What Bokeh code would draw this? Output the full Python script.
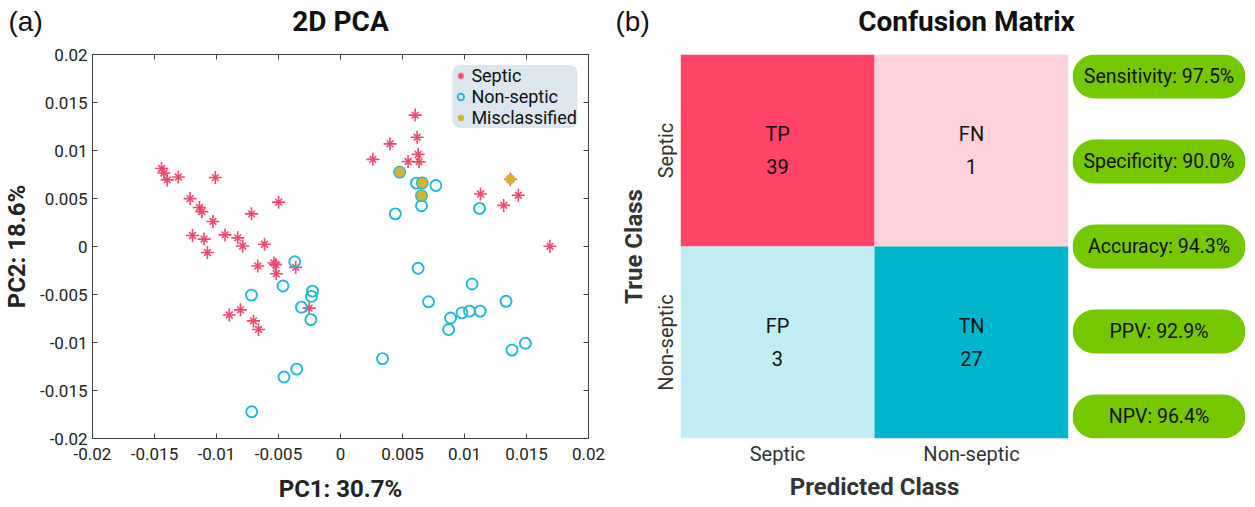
from bokeh.plotting import figure
from bokeh.layouts import row, column
from bokeh.models import (Range1d, FixedTicker, CustomJSTickFormatter, LinearAxis, Legend,
                          LegendItem, ColumnDataSource, FactorRange)
from bokeh.core.properties import value
from bokeh.embed import file_html
from bokeh.resources import INLINE

# ---------------- data: 2D PCA ----------------
septic_x = [-0.01443, -0.01424, -0.01397, -0.01308, -0.0101, -0.01213, -0.01138, -0.01118,
            -0.01029, -0.00718, -0.00499, -0.01194, -0.0110, -0.00931, -0.00829, -0.00789,
            -0.00613, -0.01073, -0.00667, -0.00537, -0.00523, -0.00518, -0.00361, -0.00253,
            -0.00897, -0.00807, -0.00702, -0.00661,
            0.00602, 0.00618, 0.00399, 0.00261, 0.00626, 0.00545, 0.00634, 0.01129, 0.01434,
            0.01316, 0.01689, 0.0137]
septic_y = [0.00813, 0.00765, 0.00694, 0.00724, 0.00718, 0.00499, 0.00407, 0.00363,
            0.00261, 0.0034, 0.00462, 0.00115, 0.00077, 0.00121, 0.0009, 0.00005,
            0.00023, -0.00063, -0.00203, -0.00172, -0.00189, -0.00284, -0.00217, -0.00642,
            -0.00714, -0.0066, -0.00775, -0.00864,
            0.01369, 0.01138, 0.01069, 0.00908, 0.0096, 0.00885, 0.00882, 0.00547, 0.00534,
            0.00428, 0.00002, 0.0070]
nonseptic_x = [-0.00369, -0.00464, -0.00718, -0.00226, -0.00234, -0.00315, -0.00239, -0.00353,
               -0.00456, -0.00716,
               0.00613, 0.00769, 0.00653, 0.00442, 0.01121, 0.00626, 0.01061, 0.0071, 0.01335,
               0.0098, 0.0104, 0.01126, 0.00888, 0.00872, 0.00339, 0.01383, 0.01491,
               0.00477, 0.00659, 0.00653]
nonseptic_y = [-0.00159, -0.00411, -0.00506, -0.00465, -0.0052, -0.00632, -0.00762, -0.01277,
               -0.01359, -0.01721,
               0.0066, 0.00636, 0.00425, 0.0034, 0.00397, -0.00227, -0.00391, -0.00575, -0.00571,
               -0.00691, -0.00673, -0.00673, -0.00745, -0.00864, -0.01168, -0.01079, -0.01008,
               0.00775, 0.00663, 0.0053]
misclassified_x = [0.00477, 0.00659, 0.00653, 0.0137]
misclassified_y = [0.00775, 0.00663, 0.0053, 0.0070]
axis_ticks = [-0.02, -0.015, -0.01, -0.005, 0, 0.005, 0.01, 0.015, 0.02]

# ---------------- data: confusion matrix ----------------
pred_classes = ["Septic", "Non-septic"]          # left to right
true_classes = ["Non-septic", "Septic"]          # bottom to top
cell_pred = ["Septic", "Non-septic", "Septic", "Non-septic"]
cell_true = ["Septic", "Septic", "Non-septic", "Non-septic"]
cell_names = ["TP", "FN", "FP", "TN"]
cell_counts = [39, 1, 3, 27]
cell_colors = ["#FF4468", "#FFD1DB", "#C1ECF1", "#00B5CC"]

metric_names = ["Sensitivity", "Specificity", "Accuracy", "PPV", "NPV"]
metric_values = [97.5, 90.0, 94.3, 92.9, 96.4]

# ---------------- header texts ----------------
panel_letters = ["(a)", "(b)"]
panel_titles = ["2D PCA", "Confusion Matrix"]

RED = "#F0476C"
CYAN = "#1DB9D5"
GOLD = "#D8B330"
GREEN = "#75C800"
FONT = "Roboto"
W = 1255
HEAD = 40
H = 465
TOP, BOTTOM = 14, 66

# ================= header strip (panel letters and titles) =================
p0 = figure(width=W, height=HEAD, x_range=Range1d(0, W), y_range=Range1d(HEAD, 0),
            output_backend="svg", toolbar_location=None,
            min_border_left=0, min_border_right=0, min_border_top=0, min_border_bottom=0)
p0.axis.visible = False
p0.grid.visible = False
p0.outline_line_color = None
p0.text(x=[8, 615], y=[21, 21], text=panel_letters, text_font=value("Liberation Sans"),
        text_font_size="28px", text_baseline="middle", text_align="left", text_color="#111111")
p0.text(x=[340, 966], y=[21, 21], text=panel_titles, text_font=value(FONT),
        text_font_style="bold", text_font_size="28px", text_baseline="middle",
        text_align="center", text_color="#111111")

# ================= Figure 1: PCA =================
p1 = figure(width=616, height=H, x_range=Range1d(-0.02, 0.02), y_range=Range1d(-0.02, 0.02),
            output_backend="svg", toolbar_location=None,
            min_border_left=92, min_border_right=28, min_border_top=TOP, min_border_bottom=BOTTOM)
p1.grid.visible = False
p1.outline_line_color = "#444444"

fmt = CustomJSTickFormatter(code="return tick == 0 ? '0' : String(Math.round(tick*1000)/1000);")
for ax in [p1.xaxis[0], p1.yaxis[0]]:
    ax.ticker = FixedTicker(ticks=axis_ticks)
    ax.formatter = fmt
    ax.axis_line_color = "#444444"
    ax.major_tick_in = 5
    ax.major_tick_out = 0
    ax.major_tick_line_color = "#444444"
    ax.minor_tick_line_color = None
    ax.major_label_text_font = FONT
    ax.major_label_text_font_size = "17px"
    ax.major_label_text_color = "#222222"
    ax.major_label_standoff = 5
    ax.axis_label_text_font = FONT
    ax.axis_label_text_font_style = "bold"
    ax.axis_label_text_font_size = "24px"
    ax.axis_label_text_color = "#222222"
p1.xaxis[0].axis_label = "PC1: 30.7%"
p1.yaxis[0].axis_label = "PC2: 18.6%"
p1.xaxis[0].major_label_standoff = 9
p1.xaxis[0].axis_label_standoff = 12
p1.yaxis[0].axis_label_standoff = 6

blank = CustomJSTickFormatter(code="return '';")
for loc in ["above", "right"]:
    a = LinearAxis(ticker=FixedTicker(ticks=axis_ticks), formatter=blank,
                   major_tick_in=5, major_tick_out=0, minor_tick_line_color=None,
                   axis_line_color="#444444", major_tick_line_color="#444444",
                   major_label_standoff=0)
    p1.add_layout(a, loc)

r_s1 = p1.scatter(septic_x, septic_y, marker="cross", size=13, line_color=RED, line_width=1.6)
r_s2 = p1.scatter(septic_x, septic_y, marker="x", size=9.5, line_color=RED, line_width=1.6)
r_ns = p1.scatter(nonseptic_x, nonseptic_y, marker="circle", size=11, fill_color=None,
                  line_color=CYAN, line_width=1.9)
r_mc = p1.scatter(misclassified_x, misclassified_y, marker="circle", size=10,
                  fill_color=GOLD, line_color=None)

legend = Legend(items=[LegendItem(label="Septic", renderers=[r_s1, r_s2]),
                       LegendItem(label="Non-septic", renderers=[r_ns]),
                       LegendItem(label="Misclassified", renderers=[r_mc])],
                location="top_right", background_fill_color="#DCE6EE", background_fill_alpha=1,
                border_line_color=None, label_text_font=FONT, label_text_font_size="18px",
                label_text_color="#111111", spacing=0, padding=3, margin=11,
                glyph_height=17, glyph_width=16, label_height=17, label_standoff=3,
                border_radius=8)
p1.add_layout(legend)

# ================= Figure 2: confusion matrix =================
src = ColumnDataSource(dict(pred=cell_pred, true=cell_true, color=cell_colors,
                            label=[f"{n}\n{c}" for n, c in zip(cell_names, cell_counts)]))
p2 = figure(width=454, height=H, x_range=FactorRange(factors=pred_classes),
            y_range=FactorRange(factors=true_classes), output_backend="svg",
            toolbar_location=None,
            min_border_left=64, min_border_right=2, min_border_top=TOP, min_border_bottom=BOTTOM)
p2.grid.visible = False
p2.outline_line_color = None
p2.rect(x="pred", y="true", width=1, height=1, fill_color="color", line_color=None, source=src)
p2.text(x="pred", y="true", text="label", source=src, text_align="center",
        text_baseline="middle", text_font=value(FONT), text_font_size="20px",
        text_color="#111111", text_line_height=1.4)
for ax in [p2.xaxis[0], p2.yaxis[0]]:
    ax.axis_line_color = None
    ax.major_tick_line_color = None
    ax.major_tick_out = 0
    ax.major_tick_in = 0
    ax.minor_tick_line_color = None
    ax.major_label_text_font = FONT
    ax.major_label_text_font_size = "20px"
    ax.major_label_text_color = "#333333"
    ax.major_label_standoff = 3
    ax.axis_label_text_font = FONT
    ax.axis_label_text_font_style = "bold"
    ax.axis_label_text_font_size = "24px"
    ax.axis_label_text_color = "#333333"
p2.xaxis[0].axis_label = "Predicted Class"
p2.yaxis[0].axis_label = "True Class"
p2.xaxis[0].axis_label_standoff = 4
p2.yaxis[0].axis_label_standoff = 3
p2.yaxis[0].major_label_orientation = "vertical"

# ================= Figure 3: metric pills =================
n = len(metric_names)
pill_y = list(range(n - 1, -1, -1))
PILL_H = 0.516
p3 = figure(width=185, height=H, x_range=Range1d(0, 1),
            y_range=Range1d(-PILL_H / 2, n - 1 + PILL_H / 2), output_backend="svg",
            toolbar_location=None,
            min_border_left=2, min_border_right=10, min_border_top=TOP, min_border_bottom=BOTTOM)
p3.axis.visible = False
p3.grid.visible = False
p3.outline_line_color = None
p3.hbar(y=pill_y, height=PILL_H, left=0, right=1, fill_color=GREEN, line_color=None,
        border_radius=22)
p3.text(x=[0.5] * n, y=pill_y,
        text=[f"{m}: {v:.1f}%" for m, v in zip(metric_names, metric_values)],
        text_align="center", text_baseline="middle", text_font=value(FONT),
        text_font_size="19.5px", text_color="#111111")

layout = column(p0, row(p1, p2, p3))
open("out.html", "w").write(file_html(layout, INLINE))
